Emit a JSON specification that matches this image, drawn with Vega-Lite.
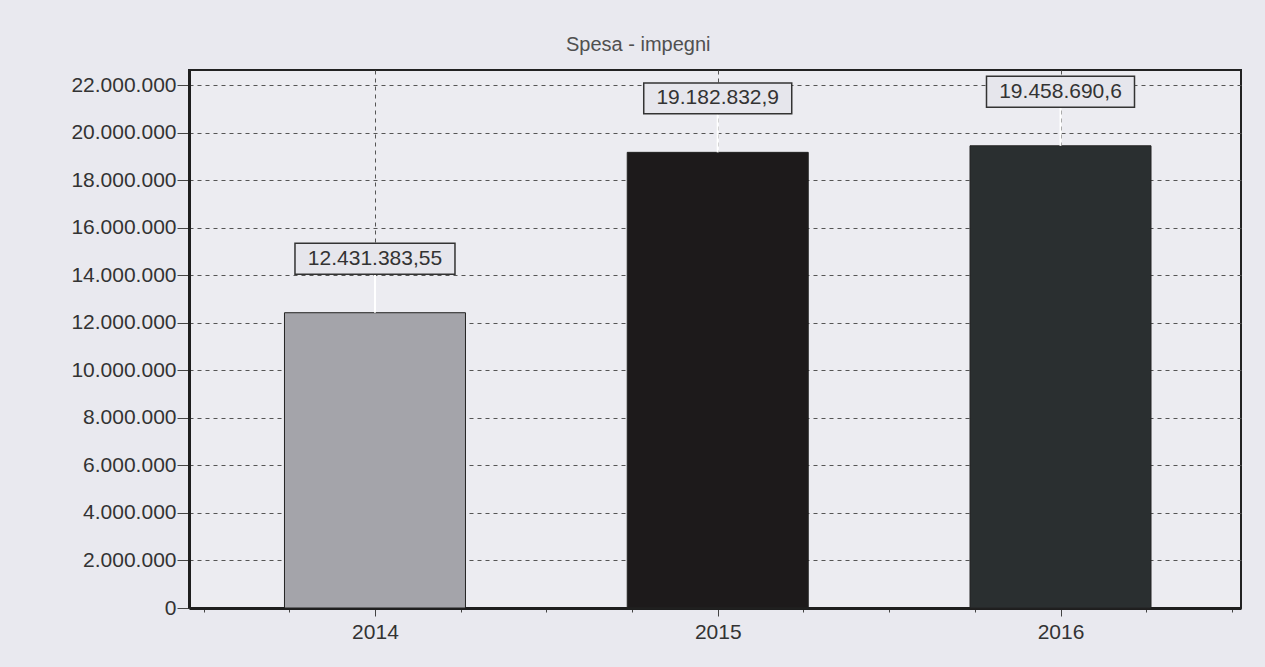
{
  "$schema": "https://vega.github.io/schema/vega-lite/v6.json",
  "width": 1052,
  "height": 538,
  "autosize": {"type": "none"},
  "padding": {"left": 189, "top": 70, "right": 24, "bottom": 59},
  "background": "#e9e9ef",
  "title": {
    "text": "Spesa - impegni",
    "anchor": "start",
    "frame": "group",
    "dx": 377,
    "offset": 15,
    "fontSize": 20,
    "fontWeight": "normal",
    "font": "Liberation Sans",
    "color": "#505050"
  },
  "config": {
    "locale": {
      "number": {"decimal": ",", "thousands": ".", "grouping": [3], "currency": ["€", ""]}
    },
    "view": {"fill": "#ececf1", "stroke": "#222222", "strokeWidth": 2},
    "axis": {
      "labelFont": "Liberation Sans",
      "labelFontSize": 21,
      "labelColor": "#333333",
      "domainColor": "#1e1e1e",
      "domainWidth": 3,
      "tickColor": "#444444",
      "gridColor": "#555555",
      "gridDash": [4, 4],
      "gridWidth": 1,
      "title": null
    }
  },
  "data": {
    "values": [
      {"year": 2014, "value": 12431383.55, "label": "12.431.383,55"},
      {"year": 2015, "value": 19182832.9, "label": "19.182.832,9"},
      {"year": 2016, "value": 19458690.6, "label": "19.458.690,6"}
    ]
  },
  "encoding": {
    "x": {
      "field": "year",
      "type": "quantitative",
      "scale": {"domain": [2013.472, 2016.512], "nice": false, "zero": false},
      "axis": {
        "values": [2013.5, 2013.75, 2014, 2014.25, 2014.5, 2014.75, 2015, 2015.25, 2015.5, 2015.75, 2016, 2016.25, 2016.5],
        "labelExpr": "datum.value % 1 === 0 ? format(datum.value, 'd') : ''",
        "labelFlush": false,
        "labelOverlap": false,
        "grid": true,
        "gridOpacity": {"condition": {"test": "datum.value % 1 === 0", "value": 1}, "value": 0},
        "tickSize": {"condition": {"test": "datum.value % 1 === 0", "value": 8}, "value": 4},
        "labelPadding": 5
      }
    },
    "y": {
      "field": "value",
      "type": "quantitative",
      "scale": {"domain": [0, 22650000], "nice": false},
      "axis": {
        "values": [0, 2000000, 4000000, 6000000, 8000000, 10000000, 12000000, 14000000, 16000000, 18000000, 20000000, 22000000],
        "format": ",d",
        "tickSize": 12,
        "labelPadding": 1,
        "grid": true
      }
    }
  },
  "layer": [
    {
      "mark": {"type": "bar", "width": 181, "stroke": "#222222", "strokeWidth": 1},
      "encoding": {
        "color": {
          "field": "year",
          "type": "ordinal",
          "scale": {"domain": [2014, 2015, 2016], "range": ["#a4a4aa", "#1d1a1b", "#2a2f30"]},
          "legend": null
        }
      }
    },
    {
      "mark": {"type": "rule", "color": "#ffffff", "strokeWidth": 2, "y2Offset": -39},
      "encoding": {
        "y2": {"field": "value"}
      }
    },
    {
      "mark": {"type": "point", "filled": true, "fill": "#e6e6ec", "stroke": "#333333", "strokeWidth": 1.5, "opacity": 1, "yOffset": -54},
      "encoding": {
        "shape": {
          "condition": {"test": "length(datum.label) > 12", "value": "M-1,-0.194L1,-0.194L1,0.194L-1,0.194Z"},
          "value": "M-1,-0.209L1,-0.209L1,0.209L-1,0.209Z"
        },
        "size": {
          "condition": {"test": "length(datum.label) > 12", "value": 25600},
          "value": 21904
        }
      }
    },
    {
      "mark": {"type": "text", "yOffset": -54, "baseline": "middle", "align": "center", "font": "Liberation Sans", "fontSize": 21, "color": "#333333"},
      "encoding": {
        "text": {"field": "label"}
      }
    }
  ]
}
